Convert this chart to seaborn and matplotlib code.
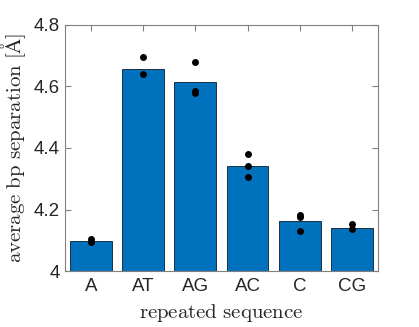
import pandas as pd
import matplotlib
matplotlib.use("Agg")
import matplotlib.pyplot as plt
import seaborn as sns

# dati
sequences = ['A', 'AT', 'AG', 'AC', 'C', 'CG']
mean_sep = [4.099, 4.657, 4.614, 4.342, 4.163, 4.141]

rep_seq = ['A', 'A', 'AT', 'AT', 'AG', 'AG', 'AG',
           'AC', 'AC', 'AC', 'C', 'C', 'C', 'CG', 'CG']
rep_sep = [4.103, 4.096, 4.694, 4.640, 4.679, 4.585, 4.580,
           4.380, 4.340, 4.305, 4.182, 4.175, 4.131, 4.153, 4.136]

y_ticks = [4.0, 4.2, 4.4, 4.6, 4.8]
y_ticklabels = ['4', '4.2', '4.4', '4.6', '4.8']

sns.set_style("white")
plt.rcParams['font.family'] = ['Liberation Sans', 'DejaVu Sans']
plt.rcParams['mathtext.fontset'] = 'cm'

bars = pd.DataFrame({'seq': sequences, 'sep': mean_sep})
points = pd.DataFrame({'seq': rep_seq, 'sep': rep_sep})

fig = plt.figure(figsize=(4.19, 3.27), dpi=100)
ax = fig.add_axes([0.155, 0.171, 0.747, 0.753])

sns.barplot(data=bars, x='seq', y='sep', order=sequences, color='#0072BD',
            saturation=1, width=0.8, edgecolor='#1c2e40', linewidth=0.7, ax=ax)
sns.stripplot(data=points, x='seq', y='sep', order=sequences, jitter=False,
              color='black', size=5, ax=ax, zorder=5)

ax.set_xlim(-0.5, 5.5)
ax.set_ylim(4.0, 4.8)
ax.set_yticks(y_ticks)
ax.set_yticklabels(y_ticklabels)

ax.set_xlabel(r'$\mathrm{repeated\ sequence}$', fontsize=15, labelpad=5)
ax.set_ylabel(r'$\mathrm{average\ bp\ separation\ [\AA]}$', fontsize=15, labelpad=4)

ax.tick_params(direction='in', length=4, color='#808080', labelsize=13.5,
               labelcolor='#262626', top=True, right=True, bottom=True, left=True)
ax.tick_params(axis='x', pad=5)
for s in ax.spines.values():
    s.set_visible(True)
    s.set_color('#808080')
    s.set_linewidth(0.8)

fig.savefig('out.png', dpi=100)
